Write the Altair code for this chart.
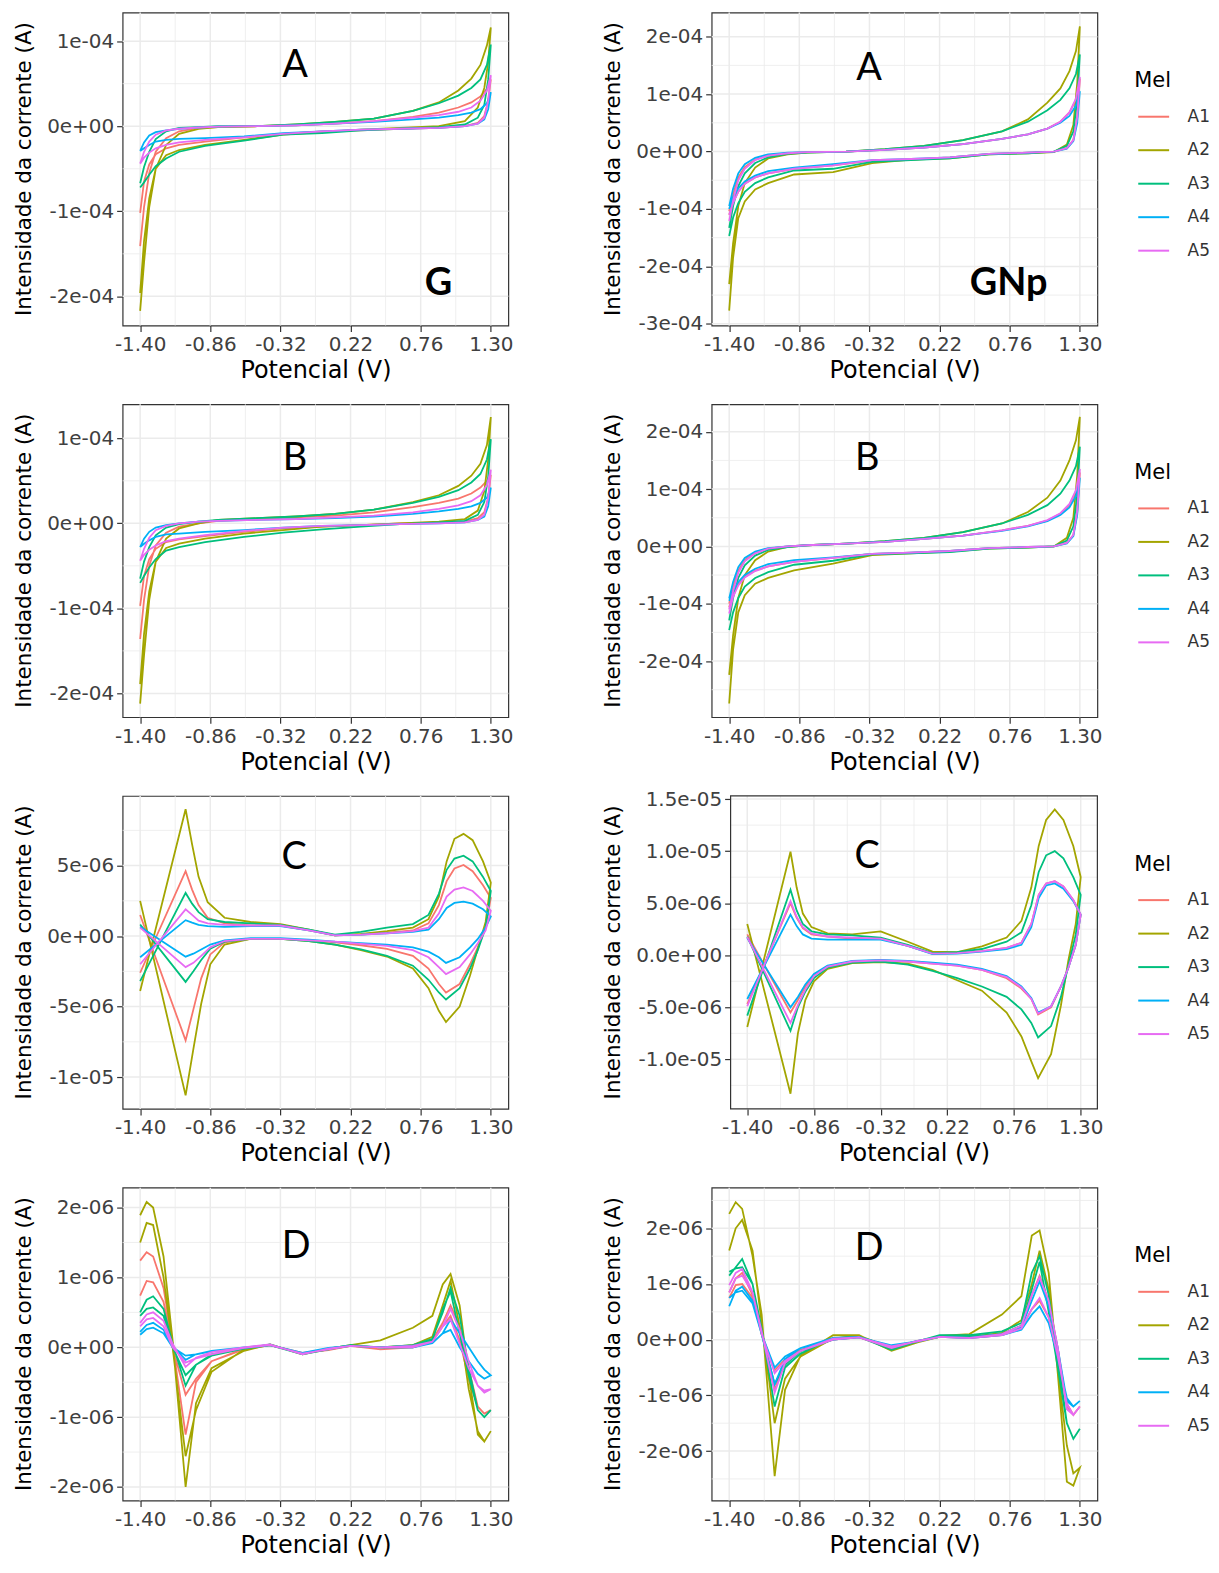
import altair as alt
import pandas as pd

SERIES = ["A1", "A2", "A3", "A4", "A5"]
COLORS = ["#F8766D", "#A3A500", "#00BF7D", "#00B0F6", "#E76BF3"]

X_TICKS = [-1.40, -0.86, -0.32, 0.22, 0.76, 1.30]
X_LABELS = ["-1.40", "-0.86", "-0.32", "0.22", "0.76", "1.30"]
X_MINOR = [-1.13, -0.59, -0.05, 0.49, 1.03]
X_DOMAIN = [-1.535, 1.435]

# ---------- potential grids (V) ----------
AB_FWD_X = [-1.4, -1.37, -1.33, -1.28, -1.2, -1.1, -0.95, -0.8, -0.5, -0.2, 0.1, 0.4, 0.7, 0.9, 1.05, 1.15, 1.22, 1.27, 1.3]
AB_REV_X = [1.3, 1.28, 1.25, 1.2, 1.1, 0.9, 0.6, 0.3, 0.0, -0.3, -0.6, -0.9, -1.1, -1.2, -1.28, -1.33, -1.37, -1.4]
C_FWD_X = [-1.4, -1.05, -1.0, -0.95, -0.88, -0.75, -0.55, -0.32, -0.1, 0.1, 0.3, 0.5, 0.7, 0.82, 0.9, 0.96, 1.02, 1.09, 1.16, 1.24, 1.3]
C_REV_X = [1.3, 1.26, 1.2, 1.14, 1.06, 0.955, 0.9, 0.82, 0.7, 0.5, 0.3, 0.1, -0.1, -0.32, -0.55, -0.75, -0.86, -0.93, -0.99, -1.05, -1.4]
D_FWD_X = [-1.4, -1.35, -1.3, -1.22, -1.15, -1.05, -0.97, -0.85, -0.6, -0.4, -0.15, 0.05, 0.22, 0.45, 0.7, 0.85, 0.93, 0.99, 1.06, 1.13, 1.2, 1.25, 1.3]
D_REV_X = [1.3, 1.25, 1.2, 1.13, 1.06, 0.99, 0.93, 0.85, 0.7, 0.45, 0.22, 0.05, -0.15, -0.4, -0.6, -0.85, -0.97, -1.05, -1.15, -1.22, -1.3, -1.35, -1.4]

# ---------- currents: A/B panels in 1e-4 A, C/D panels in 1e-6 A ----------
G_A = {
    "A1": ([-1.41, -0.95, -0.55, -0.3, -0.14, -0.06, -0.02, -0.01, 0.0, 0.01, 0.03, 0.06, 0.11, 0.16, 0.22, 0.28, 0.35, 0.44, 0.55],
           [0.55, 0.3, 0.12, 0.04, 0.0, -0.02, -0.03, -0.05, -0.06, -0.09, -0.13, -0.18, -0.22, -0.26, -0.33, -0.45, -0.65, -1.02]),
    "A2": ([-2.17, -1.6, -0.95, -0.5, -0.22, -0.09, -0.03, -0.01, 0.0, 0.02, 0.05, 0.09, 0.18, 0.28, 0.42, 0.56, 0.72, 0.95, 1.16],
           [1.16, 0.75, 0.45, 0.22, 0.06, 0.0, -0.02, -0.04, -0.07, -0.1, -0.16, -0.22, -0.28, -0.34, -0.5, -0.85, -1.35, -1.96]),
    "A3": ([-0.67, -0.48, -0.3, -0.15, -0.06, -0.02, -0.01, 0.0, 0.0, 0.02, 0.05, 0.09, 0.18, 0.27, 0.36, 0.45, 0.55, 0.72, 0.96],
           [0.96, 0.55, 0.25, 0.1, 0.02, -0.01, -0.03, -0.05, -0.08, -0.1, -0.17, -0.23, -0.3, -0.38, -0.47, -0.57, -0.66, -0.72]),
    "A4": ([-0.29, -0.19, -0.11, -0.07, -0.05, -0.03, -0.015, -0.005, 0.0, 0.01, 0.03, 0.05, 0.08, 0.1, 0.13, 0.16, 0.2, 0.27, 0.4],
           [0.4, 0.2, 0.08, 0.03, 0.0, -0.02, -0.03, -0.04, -0.06, -0.08, -0.12, -0.14, -0.15, -0.16, -0.18, -0.22, -0.26, -0.29]),
    "A5": ([-0.44, -0.3, -0.18, -0.1, -0.05, -0.03, -0.015, -0.005, 0.0, 0.01, 0.03, 0.06, 0.1, 0.13, 0.17, 0.22, 0.3, 0.42, 0.6],
           [0.6, 0.3, 0.1, 0.03, 0.0, -0.02, -0.03, -0.04, -0.06, -0.09, -0.13, -0.16, -0.19, -0.22, -0.26, -0.31, -0.37, -0.44]),
}
GNP_A = {
    "A1": ([-1.04, -0.75, -0.45, -0.27, -0.14, -0.07, -0.03, -0.01, 0.0, 0.03, 0.07, 0.13, 0.22, 0.3, 0.4, 0.52, 0.68, 0.9, 1.27],
           [1.27, 0.6, 0.2, 0.06, 0.0, -0.02, -0.04, -0.1, -0.14, -0.16, -0.24, -0.3, -0.38, -0.45, -0.56, -0.7, -0.88, -1.1]),
    "A2": ([-2.31, -1.6, -0.95, -0.55, -0.28, -0.12, -0.05, -0.02, 0.0, 0.04, 0.1, 0.2, 0.35, 0.56, 0.85, 1.1, 1.4, 1.75, 2.18],
           [2.18, 1.2, 0.46, 0.12, -0.01, -0.03, -0.05, -0.12, -0.14, -0.2, -0.36, -0.4, -0.55, -0.66, -0.87, -1.16, -1.85, -2.77]),
    "A3": ([-1.33, -0.95, -0.6, -0.38, -0.2, -0.1, -0.04, -0.02, 0.0, 0.04, 0.1, 0.2, 0.35, 0.52, 0.72, 0.9, 1.1, 1.35, 1.69],
           [1.69, 0.9, 0.35, 0.1, 0.0, -0.03, -0.05, -0.12, -0.15, -0.18, -0.3, -0.33, -0.45, -0.55, -0.7, -0.9, -1.15, -1.47]),
    "A4": ([-0.95, -0.65, -0.38, -0.22, -0.11, -0.05, -0.02, -0.01, 0.0, 0.03, 0.07, 0.13, 0.22, 0.3, 0.4, 0.5, 0.62, 0.8, 1.05],
           [1.05, 0.5, 0.18, 0.05, 0.0, -0.02, -0.04, -0.1, -0.13, -0.15, -0.22, -0.28, -0.34, -0.42, -0.52, -0.64, -0.8, -1.0]),
    "A5": ([-1.21, -0.85, -0.5, -0.3, -0.15, -0.07, -0.03, -0.01, 0.0, 0.03, 0.07, 0.13, 0.22, 0.3, 0.4, 0.52, 0.68, 0.92, 1.3],
           [1.3, 0.6, 0.2, 0.06, 0.0, -0.02, -0.04, -0.1, -0.13, -0.15, -0.24, -0.3, -0.38, -0.45, -0.56, -0.7, -0.9, -1.1]),
}
G_B = {
    "A1": ([-1.36, -0.9, -0.5, -0.26, -0.11, -0.04, 0.0, 0.03, 0.05, 0.07, 0.09, 0.13, 0.19, 0.24, 0.29, 0.35, 0.42, 0.5, 0.57],
           [0.57, 0.3, 0.13, 0.06, 0.02, 0.01, 0.0, -0.02, -0.04, -0.06, -0.1, -0.15, -0.19, -0.22, -0.3, -0.42, -0.62, -0.97]),
    "A2": ([-2.12, -1.55, -0.9, -0.45, -0.18, -0.06, 0.0, 0.04, 0.06, 0.08, 0.11, 0.16, 0.25, 0.33, 0.44, 0.56, 0.7, 0.92, 1.25],
           [1.25, 0.75, 0.38, 0.15, 0.05, 0.02, 0.0, -0.02, -0.04, -0.08, -0.12, -0.18, -0.24, -0.29, -0.45, -0.8, -1.3, -1.89]),
    "A3": ([-0.65, -0.45, -0.28, -0.14, -0.05, -0.01, 0.02, 0.04, 0.06, 0.08, 0.11, 0.16, 0.24, 0.31, 0.39, 0.48, 0.58, 0.75, 0.99],
           [0.99, 0.55, 0.25, 0.1, 0.03, 0.01, -0.01, -0.04, -0.07, -0.11, -0.16, -0.22, -0.28, -0.32, -0.42, -0.52, -0.62, -0.7]),
    "A4": ([-0.28, -0.18, -0.1, -0.05, -0.02, 0.0, 0.02, 0.03, 0.04, 0.05, 0.06, 0.08, 0.11, 0.14, 0.17, 0.2, 0.24, 0.3, 0.42],
           [0.42, 0.2, 0.08, 0.04, 0.01, 0.0, -0.01, -0.02, -0.03, -0.05, -0.08, -0.1, -0.12, -0.13, -0.16, -0.2, -0.24, -0.28]),
    "A5": ([-0.44, -0.3, -0.17, -0.08, -0.03, 0.0, 0.02, 0.03, 0.04, 0.05, 0.07, 0.09, 0.13, 0.17, 0.21, 0.26, 0.33, 0.45, 0.63],
           [0.63, 0.3, 0.1, 0.04, 0.01, 0.0, -0.01, -0.02, -0.03, -0.05, -0.09, -0.14, -0.18, -0.21, -0.26, -0.31, -0.37, -0.44]),
}
GNP_B = {
    "A1": ([-1.0, -0.7, -0.42, -0.24, -0.11, -0.04, 0.0, 0.02, 0.05, 0.08, 0.13, 0.19, 0.28, 0.36, 0.45, 0.57, 0.72, 0.95, 1.29],
           [1.29, 0.6, 0.2, 0.06, 0.0, -0.01, -0.03, -0.08, -0.11, -0.13, -0.2, -0.27, -0.35, -0.42, -0.53, -0.66, -0.83, -1.06]),
    "A2": ([-2.24, -1.55, -0.9, -0.5, -0.24, -0.09, -0.01, 0.02, 0.05, 0.09, 0.15, 0.25, 0.4, 0.6, 0.85, 1.15, 1.5, 1.85, 2.26],
           [2.26, 1.25, 0.5, 0.15, 0.0, -0.02, -0.04, -0.09, -0.12, -0.15, -0.3, -0.42, -0.55, -0.65, -0.85, -1.15, -1.8, -2.74]),
    "A3": ([-1.29, -0.9, -0.55, -0.33, -0.16, -0.06, -0.01, 0.02, 0.05, 0.09, 0.15, 0.25, 0.4, 0.55, 0.72, 0.92, 1.15, 1.4, 1.74],
           [1.74, 0.9, 0.35, 0.1, 0.0, -0.02, -0.04, -0.1, -0.12, -0.14, -0.25, -0.32, -0.45, -0.55, -0.7, -0.9, -1.15, -1.46]),
    "A4": ([-0.91, -0.62, -0.36, -0.2, -0.09, -0.03, 0.0, 0.02, 0.05, 0.08, 0.13, 0.19, 0.27, 0.35, 0.44, 0.55, 0.68, 0.88, 1.2],
           [1.2, 0.55, 0.18, 0.05, 0.0, -0.01, -0.03, -0.08, -0.11, -0.13, -0.19, -0.24, -0.31, -0.39, -0.5, -0.62, -0.78, -0.95]),
    "A5": ([-1.1, -0.78, -0.46, -0.26, -0.12, -0.04, 0.0, 0.02, 0.05, 0.08, 0.13, 0.19, 0.28, 0.36, 0.46, 0.58, 0.74, 0.98, 1.35],
           [1.35, 0.62, 0.2, 0.06, 0.0, -0.01, -0.03, -0.08, -0.11, -0.13, -0.2, -0.27, -0.35, -0.43, -0.54, -0.68, -0.88, -1.17]),
}
G_C = {
    "A1": ([-2.6, 4.6, 3.3, 2.2, 1.3, 0.9, 0.75, 0.75, 0.4, 0.05, 0.1, 0.25, 0.4, 0.9, 2.2, 3.9, 4.8, 5.05, 4.6, 3.6, 2.7],
           [2.7, 0.6, -0.8, -2.0, -3.4, -4.0, -3.4, -2.3, -1.4, -0.9, -0.65, -0.45, -0.3, -0.2, -0.2, -0.45, -1.3, -3.0, -5.2, -7.4, 1.5]),
    "A2": ([-3.9, 9.0, 6.5, 4.2, 2.4, 1.3, 1.0, 0.85, 0.45, 0.05, 0.15, 0.35, 0.6, 1.2, 2.8, 5.3, 6.9, 7.25, 6.8, 5.3, 3.8],
           [3.8, 1.0, -0.9, -2.8, -5.0, -6.1, -5.3, -3.7, -2.3, -1.45, -1.0, -0.6, -0.35, -0.2, -0.2, -0.6, -2.0, -4.8, -8.0, -11.3, 2.5]),
    "A3": ([-3.2, 3.06, 2.3, 1.7, 1.2, 1.0, 0.9, 0.8, 0.45, 0.1, 0.3, 0.6, 0.85, 1.5, 3.0, 4.7, 5.5, 5.7, 5.3, 4.2, 3.2],
           [3.2, 0.6, -1.0, -2.3, -3.7, -4.5, -4.0, -3.1, -2.1, -1.4, -0.95, -0.6, -0.35, -0.2, -0.2, -0.4, -0.9, -1.7, -2.5, -3.25, 0.82]),
    "A4": ([-1.5, 1.13, 0.95, 0.8, 0.7, 0.65, 0.7, 0.7, 0.4, 0.05, 0.1, 0.2, 0.3, 0.45, 1.2, 2.0, 2.35, 2.45, 2.3, 1.9, 1.4],
           [1.4, 0.6, -0.2, -0.8, -1.5, -1.9, -1.5, -1.1, -0.8, -0.6, -0.5, -0.4, -0.25, -0.15, -0.15, -0.3, -0.6, -0.95, -1.25, -1.46, 0.66]),
    "A5": ([-2.0, 1.9, 1.5, 1.1, 0.9, 0.8, 0.75, 0.75, 0.4, 0.05, 0.1, 0.2, 0.35, 0.6, 1.6, 2.8, 3.3, 3.45, 3.2, 2.5, 1.8],
           [1.8, 0.4, -0.5, -1.3, -2.2, -2.7, -2.2, -1.5, -1.0, -0.7, -0.55, -0.4, -0.3, -0.2, -0.2, -0.35, -0.8, -1.4, -1.9, -2.2, 0.6]),
}
GNP_C = {
    "A1": ([-4.7, 5.0, 3.6, 2.6, 2.0, 1.8, 1.6, 1.6, 0.9, 0.15, 0.2, 0.4, 0.7, 1.2, 3.0, 5.8, 6.9, 7.1, 6.6, 5.3, 3.9],
           [3.9, 1.0, -1.2, -3.0, -5.0, -5.7, -4.2, -3.2, -2.2, -1.4, -1.0, -0.8, -0.6, -0.5, -0.6, -1.1, -1.9, -3.0, -4.3, -5.5, 2.0]),
    "A2": ([-6.9, 9.94, 6.5, 4.0, 2.7, 2.1, 2.0, 2.3, 1.3, 0.35, 0.3, 0.85, 1.7, 3.3, 6.5, 10.5, 13.0, 14.0, 13.0, 10.5, 7.5],
           [7.5, 3.0, -0.5, -4.8, -9.5, -11.8, -10.2, -7.8, -5.5, -3.4, -2.4, -1.4, -0.8, -0.65, -0.75, -1.3, -2.5, -4.3, -7.5, -13.3, 3.0]),
    "A3": ([-5.8, 6.3, 4.3, 3.0, 2.3, 2.0, 1.9, 1.7, 1.0, 0.2, 0.3, 0.6, 1.3, 2.2, 4.8, 8.0, 9.6, 10.0, 9.3, 7.5, 5.8],
           [5.8, 2.0, -1.0, -4.0, -6.8, -7.9, -6.5, -5.2, -4.0, -3.0, -2.2, -1.5, -0.9, -0.6, -0.7, -1.2, -2.2, -3.5, -5.0, -7.26, 1.8]),
    "A4": ([-4.2, 3.9, 2.8, 2.0, 1.6, 1.5, 1.5, 1.5, 0.9, 0.1, 0.15, 0.35, 0.6, 1.0, 2.7, 5.5, 6.7, 6.9, 6.4, 5.2, 3.9],
           [3.9, 1.0, -1.2, -3.0, -4.9, -5.5, -4.1, -3.0, -2.0, -1.3, -0.9, -0.7, -0.55, -0.45, -0.55, -1.0, -1.8, -2.8, -4.0, -5.0, 1.66]),
    "A5": ([-4.9, 5.2, 3.7, 2.7, 2.1, 1.8, 1.7, 1.6, 0.9, 0.15, 0.2, 0.4, 0.7, 1.2, 3.0, 5.8, 6.9, 7.1, 6.6, 5.3, 3.9],
           [3.9, 1.0, -1.2, -3.0, -4.9, -5.6, -4.2, -3.1, -2.1, -1.4, -1.0, -0.8, -0.6, -0.5, -0.6, -1.1, -2.0, -3.3, -4.8, -6.5, 1.75]),
}
G_D = {
    "A1": ([1.24, 1.36, 1.3, 0.85, 0.05, -1.25, -0.5, -0.2, -0.03, 0.03, -0.08, -0.03, 0.02, -0.03, 0.03, 0.1, 0.35, 0.6, 0.3, -0.3, -0.85, -0.95, -0.9],
           [-0.9, -0.95, -0.85, -0.45, 0.1, 0.45, 0.3, 0.08, 0.0, -0.03, 0.02, -0.04, -0.08, 0.03, -0.02, -0.2, -0.45, -0.68, 0.0, 0.65, 0.93, 0.95, 0.74]),
    "A2": ([1.89, 2.08, 2.0, 1.3, 0.1, -2.0, -0.8, -0.3, -0.05, 0.04, -0.1, -0.02, 0.03, 0.1, 0.28, 0.45, 0.9, 1.05, 0.6, -0.4, -1.25, -1.35, -1.2],
           [-1.2, -1.35, -1.2, -0.6, 0.3, 0.95, 0.6, 0.15, 0.03, 0.0, 0.02, -0.03, -0.09, 0.03, -0.03, -0.35, -0.9, -1.56, 0.0, 1.0, 1.75, 1.78, 1.5]),
    "A3": ([0.5, 0.68, 0.73, 0.55, 0.05, -0.55, -0.25, -0.1, -0.02, 0.04, -0.1, -0.02, 0.03, 0.0, 0.03, 0.12, 0.5, 0.85, 0.45, -0.3, -0.9, -1.0, -0.9],
           [-0.9, -1.0, -0.9, -0.4, 0.2, 0.8, 0.55, 0.1, 0.0, 0.0, 0.03, -0.03, -0.1, 0.03, -0.02, -0.12, -0.25, -0.4, 0.0, 0.45, 0.57, 0.55, 0.45]),
    "A4": ([0.22, 0.32, 0.35, 0.25, 0.02, -0.18, -0.1, -0.05, 0.0, 0.03, -0.08, -0.01, 0.02, 0.0, 0.02, 0.06, 0.2, 0.4, 0.2, 0.0, -0.2, -0.32, -0.4],
           [-0.4, -0.45, -0.38, -0.2, 0.0, 0.25, 0.2, 0.06, 0.0, 0.0, 0.02, -0.02, -0.08, 0.03, -0.01, -0.06, -0.1, -0.12, 0.0, 0.2, 0.28, 0.26, 0.18]),
    "A5": ([0.35, 0.47, 0.5, 0.38, 0.05, -0.28, -0.15, -0.07, 0.0, 0.04, -0.1, -0.02, 0.02, 0.0, 0.02, 0.08, 0.3, 0.55, 0.25, -0.2, -0.55, -0.65, -0.6],
           [-0.6, -0.62, -0.55, -0.3, 0.05, 0.4, 0.3, 0.08, 0.0, 0.0, 0.02, -0.03, -0.09, 0.03, -0.01, -0.1, -0.16, -0.22, 0.0, 0.3, 0.42, 0.4, 0.3]),
}
GNP_D = {
    "A1": ([0.85, 1.1, 1.2, 0.8, 0.15, -0.9, -0.4, -0.2, 0.02, 0.04, -0.15, -0.02, 0.05, 0.03, 0.1, 0.25, 0.8, 1.15, 0.7, -0.15, -1.2, -1.35, -1.2],
           [-1.2, -1.35, -1.15, -0.3, 0.4, 0.7, 0.55, 0.2, 0.08, 0.03, 0.05, -0.03, -0.12, 0.04, 0.0, -0.18, -0.35, -0.55, 0.1, 0.75, 1.0, 0.98, 0.75]),
    "A2": ([2.26, 2.47, 2.35, 1.5, 0.45, -2.45, -0.9, -0.28, 0.08, 0.08, -0.2, -0.05, 0.07, 0.1, 0.45, 0.78, 1.87, 1.96, 1.2, -0.6, -2.55, -2.62, -2.3],
           [-2.3, -2.4, -1.9, -0.5, 0.9, 1.6, 1.0, 0.35, 0.12, 0.05, 0.05, -0.05, -0.15, 0.07, 0.02, -0.3, -0.7, -1.5, 0.3, 1.6, 2.15, 2.0, 1.6]),
    "A3": ([1.15, 1.3, 1.45, 1.0, 0.2, -1.2, -0.5, -0.25, 0.03, 0.05, -0.18, -0.03, 0.08, 0.08, 0.15, 0.3, 1.2, 1.5, 0.8, -0.3, -1.5, -1.78, -1.6],
           [-1.6, -1.78, -1.5, -0.5, 0.5, 1.4, 0.9, 0.25, 0.1, 0.05, 0.06, -0.03, -0.13, 0.05, 0.0, -0.2, -0.45, -0.8, 0.1, 1.0, 1.3, 1.28, 1.22]),
    "A4": ([0.6, 0.88, 0.95, 0.7, 0.1, -0.8, -0.35, -0.15, 0.03, 0.05, -0.12, -0.02, 0.05, 0.03, 0.1, 0.22, 0.7, 1.05, 0.6, -0.15, -1.1, -1.2, -1.1],
           [-1.1, -1.2, -1.05, -0.3, 0.3, 0.6, 0.45, 0.18, 0.08, 0.03, 0.05, -0.03, -0.1, 0.04, 0.0, -0.15, -0.3, -0.5, 0.1, 0.65, 0.88, 0.85, 0.75]),
    "A5": ([0.98, 1.2, 1.27, 0.85, 0.15, -0.95, -0.42, -0.2, 0.02, 0.04, -0.15, -0.02, 0.05, 0.03, 0.1, 0.25, 0.8, 1.12, 0.7, -0.15, -1.25, -1.35, -1.2],
           [-1.2, -1.35, -1.15, -0.3, 0.4, 0.75, 0.55, 0.2, 0.08, 0.03, 0.05, -0.03, -0.12, 0.04, 0.0, -0.2, -0.38, -0.6, 0.1, 0.85, 1.15, 1.1, 0.85]),
}

# ---------- y axes per panel ----------
Y_AB_G_TICKS = [-2e-4, -1e-4, 0.0, 1e-4]
Y_AB_G_LABELS = ["-2e-04", "-1e-04", "0e+00", "1e-04"]
Y_AB_G_MINOR = [-1.5e-4, -0.5e-4, 0.5e-4]
Y_A_GNP_TICKS = [-3e-4, -2e-4, -1e-4, 0.0, 1e-4, 2e-4]
Y_A_GNP_LABELS = ["-3e-04", "-2e-04", "-1e-04", "0e+00", "1e-04", "2e-04"]
Y_AB_GNP_MINOR = [-2.5e-4, -1.5e-4, -0.5e-4, 0.5e-4, 1.5e-4]
Y_B_GNP_TICKS = [-2e-4, -1e-4, 0.0, 1e-4, 2e-4]
Y_B_GNP_LABELS = ["-2e-04", "-1e-04", "0e+00", "1e-04", "2e-04"]
Y_C_G_TICKS = [-1e-5, -5e-6, 0.0, 5e-6]
Y_C_G_LABELS = ["-1e-05", "-5e-06", "0e+00", "5e-06"]
Y_C_G_MINOR = [-7.5e-6, -2.5e-6, 2.5e-6, 7.5e-6]
Y_C_GNP_TICKS = [-1e-5, -5e-6, 0.0, 5e-6, 1e-5, 1.5e-5]
Y_C_GNP_LABELS = ["-1.0e-05", "-5.0e-06", "0.0e+00", "5.0e-06", "1.0e-05", "1.5e-05"]
Y_C_GNP_MINOR = [-1.25e-5, -7.5e-6, -2.5e-6, 2.5e-6, 7.5e-6, 1.25e-5]
Y_D_TICKS = [-2e-6, -1e-6, 0.0, 1e-6, 2e-6]
Y_D_LABELS = ["-2e-06", "-1e-06", "0e+00", "1e-06", "2e-06"]
Y_D_G_MINOR = [-1.5e-6, -0.5e-6, 0.5e-6, 1.5e-6]
Y_D_GNP_MINOR = [-2.5e-6, -1.5e-6, -0.5e-6, 0.5e-6, 1.5e-6, 2.5e-6]

Y_TITLE = "Intensidade da corrente (A)"
X_TITLE = "Potencial (V)"

FONT = "DejaVu Sans"
LETTER_FONT = "Lato"
GRID = "#EBEBEB"
INK = "#333333"
PLOT_W = 387
PLOT_H = 314


def label_expr(values, labels):
    tol = (max(values) - min(values)) / 1000.0
    expr = "''"
    for v, l in reversed(list(zip(values, labels))):
        expr = f"abs(datum.value - ({v!r})) < {tol!r} ? '{l}' : ({expr})"
    return expr


def build_df(fwd_x, rev_x, data, unit):
    rows = []
    for s in SERIES:
        fwd, rev = data[s]
        assert len(fwd) == len(fwd_x), (s, len(fwd), len(fwd_x))
        assert len(rev) == len(rev_x), (s, len(rev), len(rev_x))
        i = 0
        for x, y in list(zip(fwd_x, fwd)) + list(zip(rev_x, rev)):
            rows.append({"x": x, "y": y * unit, "s": s, "i": i})
            i += 1
    return pd.DataFrame(rows)


def panel(df, ydom, yticks, ylabels, yminor, texts, legend=None, inset=0):
    """inset > 0: plot area starts `inset` px right of the panel origin (narrower panel)."""
    xs = alt.Scale(domain=X_DOMAIN, nice=False, zero=False, range=[inset, PLOT_W])
    ys = alt.Scale(domain=ydom, nice=False, zero=False)
    xaxis = alt.Axis(values=X_TICKS, labelExpr=label_expr(X_TICKS, X_LABELS), title=X_TITLE,
                     grid=False, domain=False, tickSize=6, tickColor=INK, tickWidth=1.2,
                     labelFont=FONT, labelFontSize=20, labelColor="#404040", labelPadding=3,
                     labelFlush=False, labelOverlap=False, titleFont=FONT, titleFontSize=24,
                     titleFontWeight="normal", titleColor="black", titlePadding=4)
    yaxis_kw = dict(values=yticks, labelExpr=label_expr(yticks, ylabels), title=None,
                    grid=False, domain=False, tickSize=6,
                    tickColor=INK, tickWidth=1.2, labelFont=FONT, labelFontSize=20,
                    labelColor="#404040", labelPadding=3, labelFlush=False, labelOverlap=False)
    if inset:
        yaxis_kw["offset"] = -inset
    yaxis = alt.Axis(**yaxis_kw)

    vmaj = alt.Chart(pd.DataFrame({"x": X_TICKS})).mark_rule(color=GRID, strokeWidth=1.5).encode(
        x=alt.X("x:Q", scale=xs, axis=xaxis))
    vmin = alt.Chart(pd.DataFrame({"x": X_MINOR})).mark_rule(color=GRID, strokeWidth=0.8).encode(
        x=alt.X("x:Q", scale=xs, axis=xaxis))
    henc = {}
    if inset:
        henc = dict(x=alt.value(inset), x2=alt.value(PLOT_W))
    hmaj = alt.Chart(pd.DataFrame({"y": yticks})).mark_rule(color=GRID, strokeWidth=1.5).encode(
        y=alt.Y("y:Q", scale=ys, axis=yaxis), **henc)
    hmin = alt.Chart(pd.DataFrame({"y": yminor})).mark_rule(color=GRID, strokeWidth=0.8).encode(
        y=alt.Y("y:Q", scale=ys, axis=yaxis), **henc)
    lines = alt.Chart(df).mark_line(strokeWidth=1.8, clip=True).encode(
        x=alt.X("x:Q", scale=xs, axis=xaxis),
        y=alt.Y("y:Q", scale=ys, axis=yaxis),
        color=alt.Color("s:N", scale=alt.Scale(domain=SERIES, range=COLORS), legend=legend),
        order=alt.Order("i:Q"),
    )
    layers = [vmaj, vmin, hmaj, hmin, lines]
    if inset:
        layers.append(
            alt.Chart(pd.DataFrame({"f": [0]})).mark_rect(fillOpacity=0, stroke=INK, strokeWidth=1.2).encode(
                x=alt.value(inset), x2=alt.value(PLOT_W), y=alt.value(0), y2=alt.value(PLOT_H))
        )
    # vertical axis title as a rotated text mark (same page column for every panel of a column)
    layers.append(
        alt.Chart(pd.DataFrame({"t": [Y_TITLE]})).mark_text(
            font=FONT, fontSize=21.5, angle=270, align="center", baseline="middle", color="black"
        ).encode(text="t:N", x=alt.value(-98), y=alt.value(PLOT_H / 2))
    )
    for txt, px, py, bold in texts:
        layers.append(
            alt.Chart(pd.DataFrame({"t": [txt]})).mark_text(
                font=LETTER_FONT, fontSize=38, fontWeight="bold" if bold else "normal",
                align="center", baseline="middle", color="black"
            ).encode(text="t:N", x=alt.value(px), y=alt.value(py))
        )
    ch = alt.layer(*layers).properties(width=PLOT_W, height=PLOT_H)
    if inset:
        ch = ch.properties(view=alt.ViewBackground(strokeOpacity=0))
    return ch


def mel_legend():
    return alt.Legend(title="Mel", orient="none", legendX=424, legendY=58, symbolType="stroke",
                      symbolSize=961, symbolStrokeWidth=2, symbolOffset=3, titleFont=FONT,
                      titleFontSize=21, titleFontWeight="normal", titleColor="black",
                      labelFont=FONT, labelFontSize=17, labelColor="#333333", rowPadding=8.6,
                      labelOffset=17.5, titlePadding=9, padding=0)


U4 = 1e-4
U6 = 1e-6

gA = panel(build_df(AB_FWD_X, AB_REV_X, G_A, U4), [-2.343e-4, 1.336e-4], Y_AB_G_TICKS, Y_AB_G_LABELS,
           Y_AB_G_MINOR, [("A", 173, 54, False), ("G", 317, 272, True)])
nA = panel(build_df(AB_FWD_X, AB_REV_X, GNP_A, U4), [-3.03e-4, 2.42e-4], Y_A_GNP_TICKS, Y_A_GNP_LABELS,
           Y_AB_GNP_MINOR, [("A", 158, 57, False), ("GNp", 298, 272, True)], mel_legend())
gB = panel(build_df(AB_FWD_X, AB_REV_X, G_B, U4), [-2.28e-4, 1.40e-4], Y_AB_G_TICKS, Y_AB_G_LABELS,
           Y_AB_G_MINOR, [("B", 173, 55, False)])
nB = panel(build_df(AB_FWD_X, AB_REV_X, GNP_B, U4), [-2.98e-4, 2.48e-4], Y_B_GNP_TICKS, Y_B_GNP_LABELS,
           Y_AB_GNP_MINOR, [("B", 156, 55, False)], mel_legend())
gC = panel(build_df(C_FWD_X, C_REV_X, G_C, U6), [-1.226e-5, 0.994e-5], Y_C_G_TICKS, Y_C_G_LABELS,
           Y_C_G_MINOR, [("C", 172, 62, False)])
nC = panel(build_df(C_FWD_X, C_REV_X, GNP_C, U6), [-1.476e-5, 1.53e-5], Y_C_GNP_TICKS, Y_C_GNP_LABELS,
           Y_C_GNP_MINOR, [("C", 156, 61, False)], mel_legend(), inset=19)
gD = panel(build_df(D_FWD_X, D_REV_X, G_D, U6), [-2.195e-6, 2.285e-6], Y_D_TICKS, Y_D_LABELS,
           Y_D_G_MINOR, [("D", 174, 60, False)])
nD = panel(build_df(D_FWD_X, D_REV_X, GNP_D, U6), [-2.89e-6, 2.73e-6], Y_D_TICKS, Y_D_LABELS,
           Y_D_GNP_MINOR, [("D", 158, 62, False)], mel_legend())

left_col = alt.vconcat(gA, gB, gC, gD, spacing=79, bounds="flush")
right_col = alt.vconcat(nA, nB, nC, nD, spacing=79, bounds="flush").resolve_legend(color="independent")

chart = alt.hconcat(left_col, right_col, spacing=88).resolve_legend(
    color="independent"
).properties(
    padding={"top": 0, "bottom": 0, "left": 5, "right": 0}
).configure_view(stroke=INK, strokeWidth=1.2)

chart.save("out.html", embed_options={"renderer": "svg", "actions": False})
